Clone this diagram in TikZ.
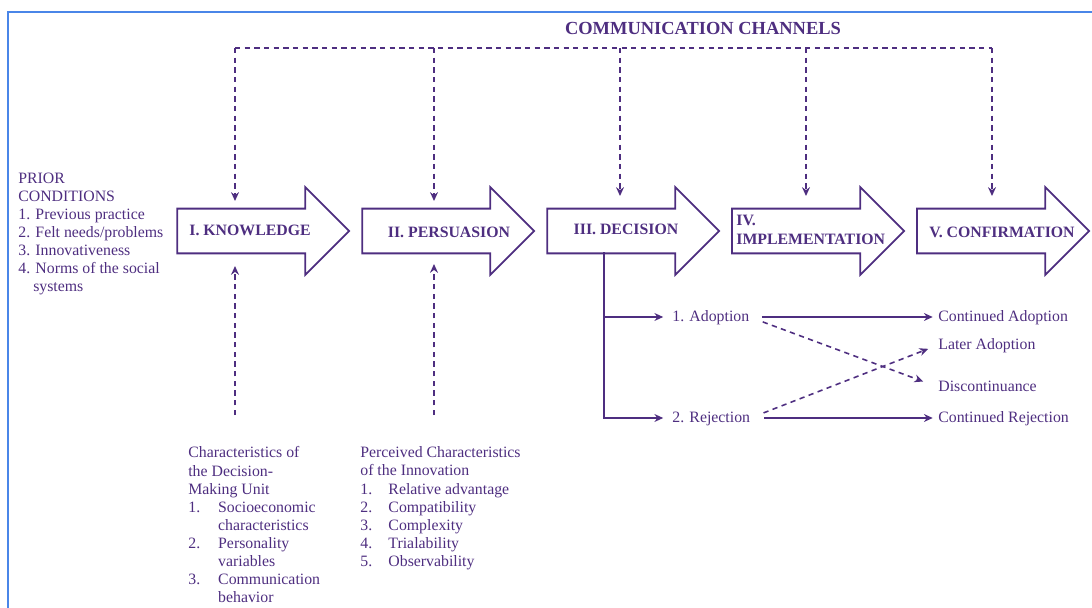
\documentclass[tikz,border=0pt]{standalone}
\usepackage{fontspec}
\setmainfont{Liberation Serif}
\usetikzlibrary{shapes.arrows,arrows.meta}
\definecolor{ink}{RGB}{78,46,128}
\definecolor{frameblue}{RGB}{74,134,232}

\begin{document}
\begin{tikzpicture}
            [x = 0.02cm, y = -0.02cm, node distance = 3.7cm,
             >={Stealth[length=5pt, width=4.5pt]},
             stage/.style = {single arrow, draw = ink, line width = 1pt, inner sep = 0pt,
                             minimum height = 3.44cm, text height = 0.43cm, text depth = 0.43cm,
                             single arrow head extend = 0.43cm},
             stagetxt/.style = {text = ink, inner sep = 0pt, align = left,
                                font = \bfseries\fontsize{9}{11}\selectfont},
             txt/.style = {text = ink, inner sep = 0pt, align = left,
                           font = \fontsize{9}{10.3}\selectfont},
             outc/.style = {txt, anchor = west, text height = 1.5ex, text depth = .4ex},
             chan/.style = {draw = ink, line width = 0.9pt, dash pattern = on 3pt off 2.5pt},
             flow/.style = {draw = ink, line width = 0.8pt}]
            \useasboundingbox (0,0) rectangle (1092,608);
            \draw[frameblue, line width = 1.3pt] (8,608) -- (8,12) -- (1092,12);

            % the five stages
            \node[stage] (k) at (252,231) {};
            \node[stage] (p) [right of=k] {};
            \node[stage] (d) [right of=p] {};
            \node[stage] (i) [right of=d] {};
            \node[stage] (c) [right of=i] {};
            \node[stagetxt] (kt) at (250,230) {I. KNOWLEDGE};
            \node[stagetxt] (pt) at (449,232) {II. PERSUASION};
            \node[stagetxt] (dt) at (626,229) {III. DECISION};
            \node[stagetxt, anchor = west] (it) at (736,230) {IV.\\IMPLEMENTATION};
            \node[stagetxt] (ct) at (1002,232) {V. CONFIRMATION};

            % communication channels
            \node[stagetxt, font = \bfseries\fontsize{10.5}{12}\selectfont] (cc) at (703,28) {COMMUNICATION CHANNELS};
            \foreach \n/\x/\y in {1/235/201, 2/434/201, 3/620/196, 4/806/196, 5/992/196} {
                \coordinate (c\n) at (\x,48);
                \coordinate (e\n) at (\x,\y);
                \draw[chan, ->] (c\n) -- (e\n);
            }
            \draw[chan] (c1) -- (c5);

            % prior conditions
            \node[txt, anchor = north west] (pc) at (18,172.5)
                {PRIOR\\CONDITIONS\\1. Previous practice\\2. Felt needs/problems\\3. Innovativeness\\
                 4. Norms of the social\\\hspace*{8.5pt}systems};

            % characteristics below
            \coordinate (u1) at (235,415);
            \coordinate (v1) at (235,266);
            \coordinate (u2) at (434,415);
            \coordinate (v2) at (434,264);
            \draw[chan, ->] (u1) -- (v1);
            \draw[chan, ->] (u2) -- (v2);
            \node[txt, anchor = north west] (du) at (188,446.5)
                {Characteristics of\\the Decision-\\Making Unit\\
                 \makebox[17pt][l]{1.}Socioeconomic\\\hspace*{17pt}characteristics\\
                 \makebox[17pt][l]{2.}Personality\\\hspace*{17pt}variables\\
                 \makebox[17pt][l]{3.}Communication\\\hspace*{17pt}behavior};
            \node[txt, anchor = north west] (pi) at (360,446.5)
                {Perceived Characteristics\\of the Innovation\\
                 \makebox[16pt][l]{1.}Relative advantage\\
                 \makebox[16pt][l]{2.}Compatibility\\
                 \makebox[16pt][l]{3.}Complexity\\
                 \makebox[16pt][l]{4.}Trialability\\
                 \makebox[16pt][l]{5.}Observability};

            % decision outcomes
            \coordinate (dj) at (604,252);
            \node[outc] (ad) at (672,317) {1. Adoption};
            \node[outc] (rj) at (672,418) {2. Rejection};
            \node[outc] (ca) at (938,317) {Continued Adoption};
            \node[outc] (la) at (938,345) {Later Adoption};
            \node[outc] (dc) at (938,387) {Discontinuance};
            \node[outc] (cr) at (938,418) {Continued Rejection};
            \draw[flow, ->, shorten >= 5pt] (dj) |- (ad.west);
            \draw[flow, ->, shorten >= 5pt] (dj) |- (rj.west);
            \draw[flow, ->, shorten <= 7pt, shorten >= 3pt] (ad.east) -- (ad.east -| ca.west);
            \draw[flow, ->, shorten <= 8pt, shorten >= 3pt] (rj.east) -- (rj.east -| cr.west);
            \draw[chan, ->, shorten <= 8pt, shorten >= 9pt] (ad.east) -- (dc.west);
            \draw[chan, ->, shorten <= 8pt, shorten >= 6pt] (rj.east) -- (la.west);
        \end{tikzpicture}
\end{document}
